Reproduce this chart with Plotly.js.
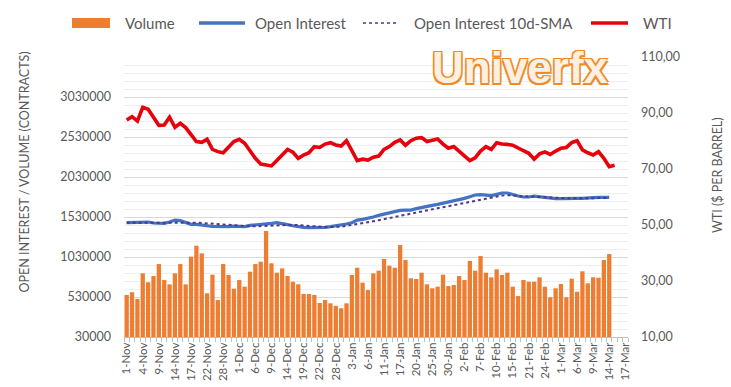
<!DOCTYPE html>
<html>
<head>
<meta charset="utf-8">
<script src="https://cdn.plot.ly/plotly-3.0.1.min.js"></script>
<style>html,body{margin:0;padding:0;background:#fff;}#chart{width:731px;height:387px;}</style>
</head>
<body>
<div id="chart"></div>
<script>
// Trading days (categories)
const dates = [
 '1-Nov','2-Nov','3-Nov','4-Nov','7-Nov','8-Nov','9-Nov','10-Nov','11-Nov','14-Nov','15-Nov','16-Nov','17-Nov','18-Nov','21-Nov','22-Nov','23-Nov','25-Nov','28-Nov','29-Nov','30-Nov',
 '1-Dec','2-Dec','5-Dec','6-Dec','7-Dec','8-Dec','9-Dec','12-Dec','13-Dec','14-Dec','15-Dec','16-Dec','19-Dec','20-Dec','21-Dec','22-Dec','23-Dec','27-Dec','28-Dec','29-Dec','30-Dec',
 '3-Jan','4-Jan','5-Jan','6-Jan','9-Jan','10-Jan','11-Jan','12-Jan','13-Jan','17-Jan','18-Jan','19-Jan','20-Jan','23-Jan','24-Jan','25-Jan','26-Jan','27-Jan','30-Jan','31-Jan',
 '1-Feb','2-Feb','3-Feb','6-Feb','7-Feb','8-Feb','9-Feb','10-Feb','13-Feb','14-Feb','15-Feb','16-Feb','17-Feb','21-Feb','22-Feb','23-Feb','24-Feb','27-Feb','28-Feb',
 '1-Mar','2-Mar','3-Mar','6-Mar','7-Mar','8-Mar','9-Mar','10-Mar','13-Mar','14-Mar','15-Mar','16-Mar','17-Mar'
];
const tickLabels = ['1-Nov','4-Nov','9-Nov','14-Nov','17-Nov','22-Nov','28-Nov','1-Dec','6-Dec','9-Dec','14-Dec','19-Dec','22-Dec','28-Dec','3-Jan','6-Jan','11-Jan','17-Jan','20-Jan','25-Jan','30-Jan','2-Feb','7-Feb','10-Feb','15-Feb','21-Feb','24-Feb','1-Mar','6-Mar','9-Mar','14-Mar','17-Mar'];

// Volume (contracts)
const volume = [
 555000,589000,505000,826000,714000,792000,942000,742000,688000,826000,
 942000,688000,1034000,1171000,1076000,576000,809000,492000,942000,805000,
 634000,742000,659000,846000,942000,971000,1355000,951000,834000,888000,
 792000,721000,689000,567000,567000,555000,455000,492000,451000,417000,
 389000,451000,805000,896000,709000,617000,826000,859000,1005000,921000,
 896000,1180000,992000,764000,755000,834000,689000,639000,659000,809000,
 667000,680000,792000,742000,980000,859000,1042000,834000,776000,876000,
 805000,834000,659000,542000,742000,721000,721000,776000,659000,526000,
 639000,692000,526000,759000,596000,851000,701000,776000,771000,992000,
 1067000
];
// Open Interest (thousand contracts)
const openInterestK = [
 1459,1459,1463,1467,1467,1455,1451,1451,1467,1492,1484,1459,1438,1438,1434,1421,1413,1409,1409,1409,
 1417,1413,1409,1425,1434,1434,1442,1451,1459,1451,1434,
 1421,1409,1401,1396,1396,1396,1401,1409,1417,1425,1442,1459,1492,1501,1513,1530,1551,1567,1580,1592,
 1613,1617,1617,1634,1651,1663,1676,1688,1701,1717,1730,1742,
 1763,1784,1805,1809,1805,1797,1813,1830,1830,1809,1792,1780,1780,1792,1784,1776,1763,1759,1759,1763,
 1763,1763,1763,1763,1772,1776,1776,1776
];
// Open Interest 10d-SMA (thousand contracts)
const oiSmaK = [
 1459,1459,1460,1461,1462,1462,1461,1460,1460,1462,1465,1466,
 1463,1459,1455,1450,1445,1440,1434,1428,1423,1419,1415,
 1413,1414,1417,1420,1424,1428,1432,1434,
 1432,1428,1422,1416,1411,1407,1405,1405,1406,1410,
 1418,1428,1440,1452,1464,1477,1490,1504,1518,1533,
 1548,1563,1578,1592,1605,1617,1629,1641,1653,1665,
 1678,1690,1702,1716,1730,1745,1760,1775,1788,1798,
 1803,1801,1796,1790,1785,1781,1778,1775,1772,1769,
 1767,1765,1764,1763,1763,1763,1764,1766,1768,1770
];
// WTI ($ per barrel)
const wti = [
 87.5,88.7,87.1,92.0,91.3,88.5,85.6,85.7,88.5,84.9,
 86.3,84.8,82.1,79.8,79.5,80.6,77.0,76.2,75.8,78.0,
 79.8,80.6,79.2,76.5,73.8,71.8,71.3,71.1,73.0,75.0,
 77.0,76.0,73.8,75.0,75.8,78.0,77.7,78.9,79.4,78.6,
 78.2,80.1,76.2,73.0,73.5,73.2,74.2,74.6,77.0,78.0,
 79.5,80.4,78.5,80.1,81.0,81.2,79.8,80.1,80.7,78.9,
 77.4,78.0,76.2,74.4,73.0,74.0,76.4,78.0,77.0,79.4,
 78.9,78.8,78.5,77.5,76.5,75.6,73.5,75.4,76.1,75.2,
 76.4,77.4,77.7,79.4,80.1,76.8,75.8,75.0,76.2,73.8,
 70.8,71.3
];
const leftTicks = [30000,530000,1030000,1530000,2030000,2530000,3030000];
const leftTickText = ['30000','530000','1030000','1530000','2030000','2530000','3030000'];
const rightTicks = [10,30,50,70,90,110];
const rightTickText = ['10,00','30,00','50,00','70,00','90,00','110,00'];
const seriesNames = ['Volume','Open Interest','Open Interest 10d-SMA','WTI'];
const seriesColors = ['#ED7D31','#4472C4','#4B3A8C','#E8000B'];

const oi = openInterestK.map(v => v * 1000);
const oiSma = oiSmaK.map(v => v * 1000);

const grey = '#595959';
const font = 'Lato, "Liberation Sans", Arial, sans-serif';

// plot area in pixels: x 124..628, y 57..337
const PL = 124, PR = 628, PT = 57, PB = 337;
const px = x => (x - PL) / (PR - PL);
const py = y => (PB - y) / (PB - PT);

const traces = [
 {type:'bar', name:seriesNames[0], x:dates.slice(0, volume.length), y:volume, marker:{color:seriesColors[0]}, yaxis:'y', hoverinfo:'skip'},
 {type:'scatter', mode:'lines', name:seriesNames[1], x:dates.slice(0, oi.length), y:oi, line:{color:seriesColors[1], width:3.2}, yaxis:'y'},
 {type:'scatter', mode:'lines', name:seriesNames[2], x:dates.slice(0, oiSma.length), y:oiSma, line:{color:seriesColors[2], width:2, dash:'dot'}, yaxis:'y'},
 {type:'scatter', mode:'lines', name:seriesNames[3], x:dates.slice(0, wti.length), y:wti, line:{color:seriesColors[3], width:3.6}, yaxis:'y2'}
];

// Legend drawn as in the original (wide swatches, spaced entries)
const legY = 23;
const legendShapes = [
 {type:'rect', xref:'paper', yref:'paper', x0:px(72), x1:px(110), y0:py(legY+5), y1:py(legY-5), fillcolor:seriesColors[0], line:{width:0}},
 {type:'line', xref:'paper', yref:'paper', x0:px(199), x1:px(245), y0:py(legY), y1:py(legY), line:{color:seriesColors[1], width:3.5}},
 {type:'line', xref:'paper', yref:'paper', x0:px(363), x1:px(398), y0:py(legY), y1:py(legY), line:{color:seriesColors[2], width:1.6, dash:'dot'}},
 {type:'line', xref:'paper', yref:'paper', x0:px(591), x1:px(628), y0:py(legY), y1:py(legY), line:{color:seriesColors[3], width:3.5}}
];
const legendTextX = [123, 253, 412, 641];
const legendAnn = seriesNames.map((n, i) => ({xref:'paper', yref:'paper', x:px(legendTextX[i]), y:py(legY), text:n, showarrow:false,
  xanchor:'left', yanchor:'middle', font:{size:15, color:grey, family:font}}));

const layout = {
 width:731, height:387,
 margin:{l:PL, r:731-PR, t:PT, b:387-PB, pad:0},
 paper_bgcolor:'#ffffff', plot_bgcolor:'#ffffff',
 font:{family:font, color:grey, size:12},
 bargap:0.2,
 showlegend:false,
 xaxis:{type:'category', categoryorder:'array', categoryarray:dates, range:[-0.5, dates.length-0.5],
   tickmode:'array', tickvals:dates, ticktext:dates.map(d => tickLabels.includes(d) ? d : ''),
   tickangle:-90, tickfont:{size:11.5, color:grey}, ticks:'outside', ticklen:4, tickcolor:'#bfbfbf', tickson:'boundaries',
   showline:true, linecolor:'#bfbfbf', linewidth:1, showgrid:false, zeroline:false, fixedrange:true},
 yaxis:{range:[30000, 3530000], tickmode:'array', tickvals:leftTicks, ticktext:leftTickText,
   tickfont:{size:12.5, color:grey}, showgrid:true, gridcolor:'#d9d9d9', gridwidth:1, zeroline:false,
   ticks:'', ticklabelstandoff:12, showline:false,
   minor:{tick0:30000, dtick:100000, showgrid:true, gridcolor:'#eeeeee', gridwidth:1, ticks:''}},
 yaxis2:{range:[10, 110], overlaying:'y', side:'right', tickmode:'array', tickvals:rightTicks, ticktext:rightTickText,
   tickfont:{size:12.5, color:grey}, showgrid:false, zeroline:false, ticks:'', ticklabelstandoff:12, showline:false},
 shapes: legendShapes,
 annotations:[
  ...legendAnn,
  {xref:'paper', yref:'paper', x:px(23.5), y:py(172), text:'OPEN INTEREST / VOLUME (CONTRACTS)', textangle:-90, showarrow:false, font:{size:12.5, color:grey, family:font}, xanchor:'center', yanchor:'middle'},
  {xref:'paper', yref:'paper', x:px(717), y:py(175), text:'WTI ($ PER BARREL)', textangle:-90, showarrow:false, font:{size:12.5, color:grey, family:font}, xanchor:'center', yanchor:'middle'},
  {xref:'paper', yref:'paper', x:px(520), y:py(67), text:'Univerfx', showarrow:false, xanchor:'center', yanchor:'middle',
   font:{size:44, family:'"Liberation Sans", Arial, sans-serif', weight:'bold', color:'#FDF0E2',
     shadow:'-1.5px -1.5px 0 #F08A24, 1.5px -1.5px 0 #F08A24, -1.5px 1.5px 0 #F08A24, 1.5px 1.5px 0 #F08A24, 0 2px 0 #F08A24'}}
 ]
};

Plotly.newPlot('chart', traces, layout, {displayModeBar:false, staticPlot:true});
</script>
</body>
</html>
